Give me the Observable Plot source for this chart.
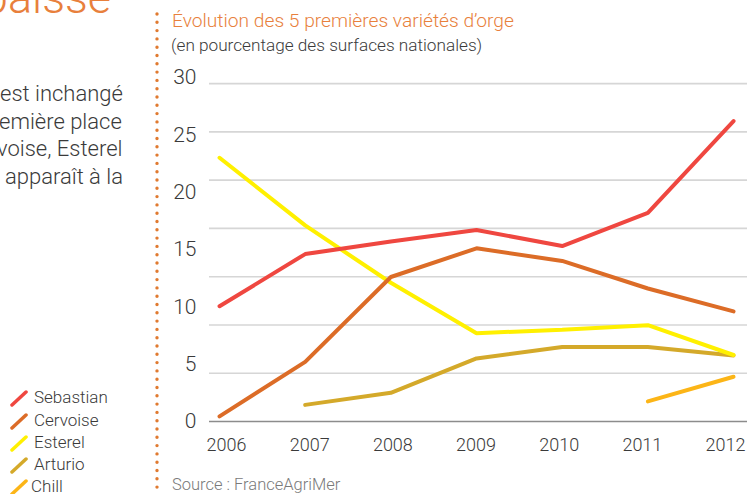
<!DOCTYPE html>
<html><head><meta charset="utf-8">
<script src="https://cdn.jsdelivr.net/npm/d3@7"></script>
<script src="https://cdn.jsdelivr.net/npm/@observablehq/plot@0.6"></script>
<style>
html,body{margin:0;padding:0;background:#fff;}
#page{position:relative;width:747px;height:494px;overflow:hidden;font-family:Roboto,"Open Sans",sans-serif;font-weight:300;color:#3a3a3a;}
#chart{position:absolute;left:0;top:0;}
.abs{position:absolute;white-space:nowrap;}
#big{left:-17px;top:-25px;font-size:45px;color:#e8803c;line-height:45px;}
.para{font-size:22px;line-height:20px;}
#title{left:172px;top:9px;font-size:19.2px;color:#e8803c;}
#subtitle{left:171px;top:35px;font-size:17.2px;color:#3a3a3a;}
#source{left:172px;top:475px;font-size:16.5px;color:#7a7a7a;}
#legend{left:0;top:0;}
.leg{position:absolute;font-size:17px;line-height:18px;}
</style></head><body>
<div id="page">
  <div id="chart"></div>
  <div class="abs" id="big">baisse</div>
  <div class="abs para" style="left:0px;top:84px">est inchangé</div>
  <div class="abs para" style="left:-1px;top:112px">emière place</div>
  <div class="abs para" style="left:-3px;top:139px">voise, Esterel</div>
  <div class="abs para" style="left:5px;top:167px">apparaît à la</div>
  <svg class="abs" style="left:150px;top:0" width="14" height="494"><line x1="7" x2="7" y1="14" y2="494" stroke="#e07a30" stroke-width="3.4" stroke-linecap="round" stroke-dasharray="0 8.3"/></svg>
  <div class="abs" id="title">Évolution des 5 premières variétés d’orge</div>
  <div class="abs" id="subtitle">(en pourcentage des surfaces nationales)</div>
  <div class="abs" id="source">Source : FranceAgriMer</div>
  <div class="abs" id="legend"></div>
</div>
<script>
const years = [2006, 2007, 2008, 2009, 2010, 2011, 2012];
const seriesNames = ["Sebastian", "Cervoise", "Esterel", "Arturio", "Chill"];
const seriesColors = ["#ef4740", "#dc6c27", "#fff000", "#d4a92a", "#fcb517"];
const sebastian = [10.05, 14.6, 15.7, 16.7, 15.3, 18.2, 26.2];
const cervoise  = [0.45, 5.2, 12.6, 15.1, 14.0, 11.6, 9.6];
const esterel   = [23.0, 17.1, 12.1, 7.7, 8.0, 8.4, 5.8];
const arturio   = [null, 1.45, 2.5, 5.5, 6.5, 6.5, 5.75];
const chill     = [null, null, null, null, null, 1.75, 3.9];
const yTicks = [0, 5, 10, 15, 20, 25, 30];

const valuesBySeries = {Sebastian: sebastian, Cervoise: cervoise, Esterel: esterel, Arturio: arturio, Chill: chill};
const drawOrder = ["Chill", "Arturio", "Esterel", "Cervoise", "Sebastian"];
const rows = drawOrder.flatMap(s => years.map((yr, i) => ({series: s, year: yr, value: valuesBySeries[s][i]})));

// gridlines: 7 equal intervals between baseline and the top rule (slightly below the "30" label)
const gridTop = 29.47;
const gridValues = d3.range(1, 8).map(k => k * gridTop / 7);

// the year labels sit on a slightly narrower spread than the data points in the original
const xLabelShift = i => 7 - 2.5 * i;

const chart = Plot.plot({
  width: 747,
  height: 494,
  marginLeft: 209,
  marginRight: 0,
  marginTop: 77,
  marginBottom: 73,
  style: {fontFamily: "Roboto, 'Open Sans', sans-serif", fontWeight: 300, color: "#3a3a3a", background: "transparent"},
  x: {domain: [2005.883, 2012.163], ticks: years, tickFormat: d => String(d), tickSize: 0, tickPadding: 17, label: null, axis: null},
  y: {domain: [0, 30], ticks: yTicks, tickSize: 0, tickPadding: 13, label: null},
  color: {domain: seriesNames, range: seriesColors},
  marks: [
    Plot.ruleY(gridValues, {stroke: "#d6d6d6", strokeWidth: 1.6}),
    Plot.ruleY([0], {stroke: "#8c8c8c", strokeWidth: 1.6}),
    Plot.axisY(yTicks, {tickSize: 0, tickPadding: 13, fontSize: 21, fill: "#3a3a3a", fontWeight: 300}),
    ...years.map((yr, i) => Plot.axisX([yr], {tickSize: 0, tickPadding: 17, fontSize: 18, fill: "#3a3a3a", fontWeight: 300, dx: xLabelShift(i), tickFormat: d => String(d), label: null})),
    Plot.line(rows, {x: "year", y: "value", z: "series", stroke: "series", strokeWidth: 4, strokeLinejoin: "miter", strokeLinecap: "round"})
  ]
});
document.getElementById("chart").appendChild(chart);

// legend
const legend = document.getElementById("legend");
const legendTops = [389, 412, 434, 456, 478];
seriesNames.forEach((name, i) => {
  const item = document.createElement("div");
  item.className = "leg";
  item.style.left = "10px";
  item.style.top = legendTops[i] + "px";
  item.innerHTML = `<svg width="20" height="18" style="vertical-align:top"><line x1="2" y1="16" x2="16" y2="3" stroke="${seriesColors[i]}" stroke-width="3.5" stroke-linecap="round"/></svg><span style="position:relative;left:${name === "Chill" ? 1 : 4}px;top:-1px">${name}</span>`;
  legend.appendChild(item);
});
</script>
</body></html>
